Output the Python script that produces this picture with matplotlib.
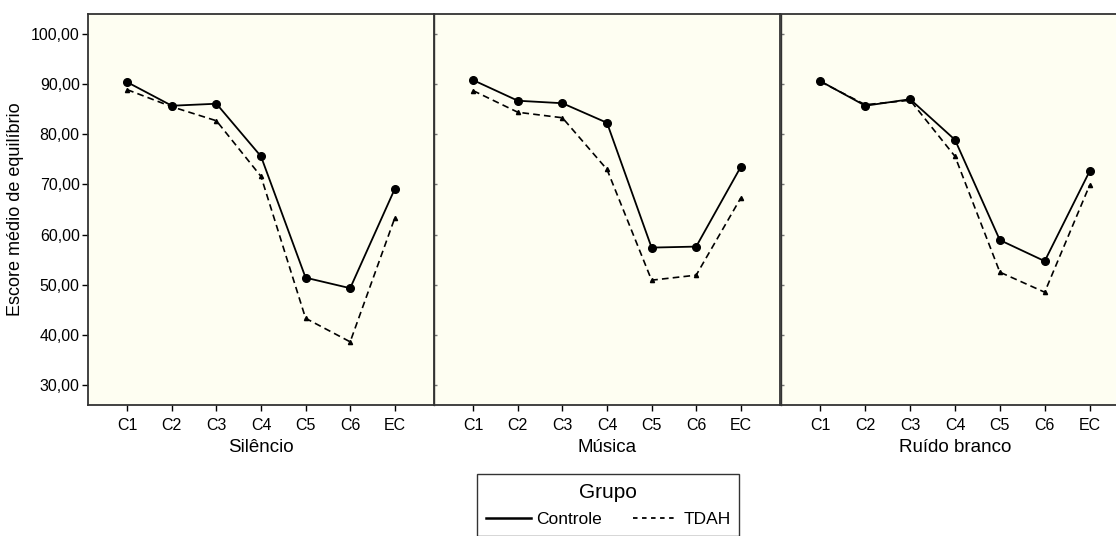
import matplotlib.pyplot as plt
from matplotlib.lines import Line2D

# condições e rótulos
categorias = ["C1", "C2", "C3", "C4", "C5", "C6", "EC"]
paineis = ["Silêncio", "Música", "Ruído branco"]

# escores médios
controle_silencio = [90.4, 85.7, 86.1, 75.6, 51.4, 49.3, 69.1]
tdah_silencio = [88.9, 85.5, 82.7, 71.6, 43.3, 38.6, 63.3]
controle_musica = [90.8, 86.7, 86.2, 82.3, 57.4, 57.6, 73.5]
tdah_musica = [88.7, 84.4, 83.3, 73.0, 50.9, 51.9, 67.3]
controle_ruido = [90.6, 85.7, 87.0, 78.9, 58.9, 54.7, 72.6]
tdah_ruido = [90.5, 85.9, 86.8, 75.6, 52.5, 48.5, 69.8]

controle = [controle_silencio, controle_musica, controle_ruido]
tdah = [tdah_silencio, tdah_musica, tdah_ruido]
yticks = [30, 40, 50, 60, 70, 80, 90, 100]

plt.rcParams['font.family'] = ['Liberation Sans', 'DejaVu Sans']

W, H = 1116, 536
fig = plt.figure(figsize=(W / 100, H / 100), dpi=100)

# posições dos painéis em pixels (esquerda, direita)
limites = [(88, 434), (434, 780), (781, 1129)]
topo, base = 14, 405
fundo = "#fefef2"

x = list(range(1, len(categorias) + 1))
for i, (esq, dir_) in enumerate(limites):
    ax = fig.add_axes([esq / W, 1 - base / H, (dir_ - esq) / W, (base - topo) / H])
    ax.set_facecolor(fundo)
    ax.plot(x, controle[i], color="black", lw=1.3, marker="o", ms=5.5, zorder=3)
    ax.plot(x, tdah[i], color="black", lw=1.2, ls=(0, (4, 2.5)), marker="^", ms=3, zorder=2)
    ax.set_xlim(0.12, 7.88)
    ax.set_ylim(26, 104)
    ax.set_xticks(x)
    ax.set_xticklabels(categorias, fontsize=11.5)
    ax.set_yticks(yticks)
    ax.set_xlabel(paineis[i], fontsize=13.5, labelpad=5)
    ax.tick_params(axis="x", direction="out", length=4, width=1, pad=5)
    for s in ax.spines.values():
        s.set_color("#333333")
        s.set_linewidth(1.3)
    if i == 0:
        ax.set_yticklabels([f"{v},00" for v in yticks], fontsize=11.5)
        ax.tick_params(axis="y", direction="out", length=4, width=1, pad=2)
        ax.set_ylabel("Escore médio de equilíbrio", fontsize=13, labelpad=5)
    else:
        ax.spines["left"].set_linewidth(1.0)
        ax.set_yticklabels([])
        ax.tick_params(axis="y", direction="in", length=2, width=1, color="#777777")

# legenda
handles = [Line2D([], [], color="black", lw=1.8),
           Line2D([], [], color="black", lw=1.3, ls=(0, (2.5, 2.5)))]
leg = fig.legend(handles, ["Controle", "TDAH"], title="Grupo", ncol=2,
                 loc="upper left", bbox_to_anchor=(477 / W, 1 - 474 / H),
                 borderaxespad=0, frameon=True, fancybox=False,
                 fontsize=12.5, title_fontsize=15,
                 handlelength=2.6, handletextpad=0.3, columnspacing=1.8,
                 borderpad=0.5, labelspacing=0.6, edgecolor="black")
leg.get_frame().set_linewidth(1.0)

fig.savefig("out.png", dpi=100)
